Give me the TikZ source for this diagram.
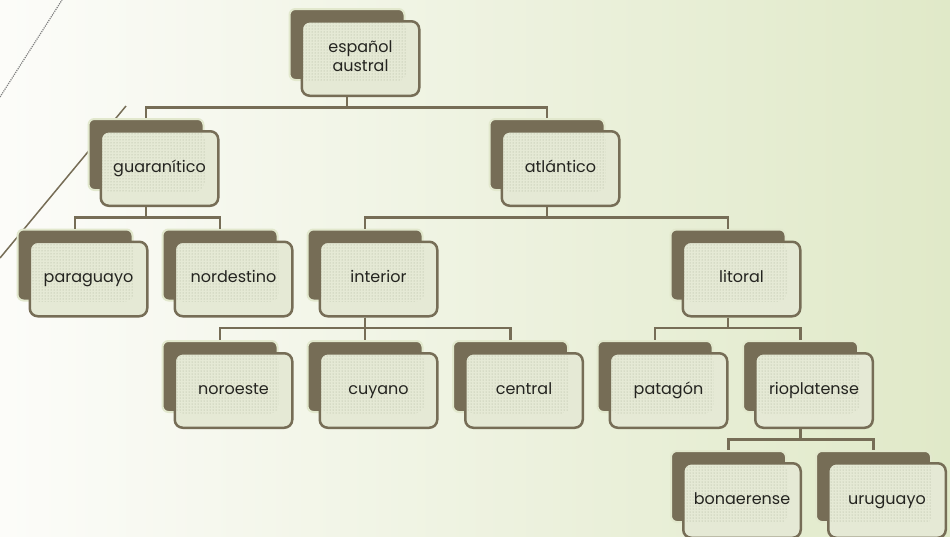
\documentclass[tikz,border=0pt]{standalone}
\usepackage{fontspec}
\setmainfont{Poppins}
\usetikzlibrary{patterns}
\definecolor{boxdark}{RGB}{118,109,86}
\definecolor{boxlight}{RGB}{229,233,213}
\definecolor{dotgray}{RGB}{168,173,150}
\definecolor{halo}{RGB}{226,232,205}
\definecolor{bgleft}{RGB}{252,252,249}
\definecolor{bgright}{RGB}{224,233,200}
\definecolor{textdark}{RGB}{36,36,32}
\tikzset{
    backbox/.style={rectangle, rounded corners=6pt, fill=boxdark, draw=halo, line width=2pt,
        minimum width=115pt, minimum height=71pt, inner sep=0pt},
    frontbox/.style={rectangle, rounded corners=8pt, fill=boxlight, draw=boxdark, line width=2.5pt,
        minimum width=117.5pt, minimum height=74.5pt, inner sep=0pt, xshift=13.5pt, yshift=-14pt,
        font=\fontsize{16}{19}\selectfont, text=textdark, align=center,
        execute at begin node=\strut,
        path picture={\fill[pattern=dots, pattern color=dotgray]
            (path picture bounding box.north west) rectangle ++(104,60);}},
    link/.style={-, draw=boxdark, line width=2.5pt},
}

\begin{document}
\begin{tikzpicture}[x=1pt, y=-1pt]
    \useasboundingbox (0,0) rectangle (950,536);
    \shade[left color=bgleft, right color=bgright] (0,0) rectangle (950,536);
    % theme strokes
    \draw[gray, line width=1.2pt, densely dotted] (0,97) -- (62,0);
    \draw[boxdark, line width=1.5pt] (0,258) -- (126,106);

    % back boxes
    \node[backbox] (espb) at (347,44.5) {};
    \node[backbox] (guab) at (146,154.5) {};
    \node[backbox] (atlb) at (547,154.5) {};
    \node[backbox] (parb) at (75,265) {};
    \node[backbox] (norb) at (220,265) {};
    \node[backbox] (intb) at (365,265) {};
    \node[backbox] (litb) at (728,265) {};
    \node[backbox] (nrob) at (220,376.5) {};
    \node[backbox] (cuyb) at (365,376.5) {};
    \node[backbox] (cenb) at (510.5,376.5) {};
    \node[backbox] (patb) at (655,376.5) {};
    \node[backbox] (riob) at (800.5,376.5) {};
    \node[backbox] (bonb) at (728.5,486.5) {};
    \node[backbox] (urub) at (873.5,486.5) {};

    % front boxes
    \node[frontbox] (esp) at (347,44.5) {español\\austral\strut};
    \node[frontbox] (gua) at (146,154.5) {guaranítico};
    \node[frontbox] (atl) at (547,154.5) {atlántico};
    \node[frontbox] (par) at (75,265) {paraguayo};
    \node[frontbox] (nor) at (220,265) {nordestino};
    \node[frontbox] (int) at (365,265) {interior};
    \node[frontbox] (lit) at (728,265) {litoral};
    \node[frontbox] (nro) at (220,376.5) {noroeste};
    \node[frontbox] (cuy) at (365,376.5) {cuyano};
    \node[frontbox] (cen) at (510.5,376.5) {central};
    \node[frontbox] (pat) at (655,376.5) {patagón};
    \node[frontbox] (rio) at (800.5,376.5) {rioplatense};
    \node[frontbox] (bon) at (728.5,486.5) {bonaerense};
    \node[frontbox] (uru) at (873.5,486.5) {uruguayo};

    % tree links
    \draw[link] (esp.south -| espb.center) -- ++(0,10.5) -| (guab.north);
    \draw[link] (esp.south -| espb.center) -- ++(0,10.5) -| (atlb.north);
    \draw[link] (gua.south -| guab.center) -- ++(0,10.5) -| (parb.north);
    \draw[link] (gua.south -| guab.center) -- ++(0,10.5) -| (norb.north);
    \draw[link] (atl.south -| atlb.center) -- ++(0,10.5) -| (intb.north);
    \draw[link] (atl.south -| atlb.center) -- ++(0,10.5) -| (litb.north);
    \draw[link] (int.south -| intb.center) -- ++(0,10.5) -| (nrob.north);
    \draw[link] (int.south -| intb.center) -- ++(0,10.5) -| (cuyb.north);
    \draw[link] (int.south -| intb.center) -- ++(0,10.5) -| (cenb.north);
    \draw[link] (lit.south -| litb.center) -- ++(0,10.5) -| (patb.north);
    \draw[link] (lit.south -| litb.center) -- ++(0,10.5) -| (riob.north);
    \draw[link] (rio.south -| riob.center) -- ++(0,10.5) -| (bonb.north);
    \draw[link] (rio.south -| riob.center) -- ++(0,10.5) -| (urub.north);
\end{tikzpicture}
\end{document}
